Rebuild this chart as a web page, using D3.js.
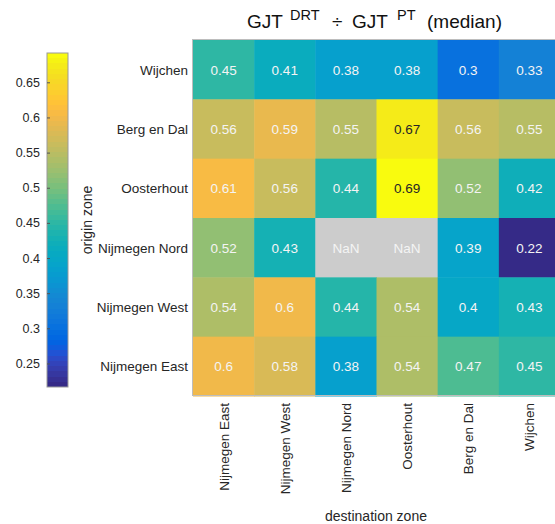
<!DOCTYPE html>
<html>
<head>
<meta charset="utf-8">
<script src="https://cdn.jsdelivr.net/npm/d3@7"></script>
<style>
html,body{margin:0;padding:0;background:#fff;}
svg{display:block;font-family:"Liberation Sans",Arial,Helvetica,sans-serif;}
</style>
</head>
<body>
<div id="chart"></div>
<script>
// ---- data ----
const rowLabels = ["Wijchen", "Berg en Dal", "Oosterhout", "Nijmegen Nord", "Nijmegen West", "Nijmegen East"];
const colLabels = ["Nijmegen East", "Nijmegen West", "Nijmegen Nord", "Oosterhout", "Berg en Dal", "Wijchen"];
const rowWijchen      = [0.45, 0.41, 0.38, 0.38, 0.3, 0.33];
const rowBergEnDal    = [0.56, 0.59, 0.55, 0.67, 0.56, 0.55];
const rowOosterhout   = [0.61, 0.56, 0.44, 0.69, 0.52, 0.42];
const rowNijmegenNord = [0.52, 0.43, NaN, NaN, 0.39, 0.22];
const rowNijmegenWest = [0.54, 0.6, 0.44, 0.54, 0.4, 0.43];
const rowNijmegenEast = [0.6, 0.58, 0.38, 0.54, 0.47, 0.45];
const colorLimits = [0.2165, 0.6917];
const colorbarTicks = [0.25, 0.3, 0.35, 0.4, 0.45, 0.5, 0.55, 0.6, 0.65];

const matrix = [rowWijchen, rowBergEnDal, rowOosterhout, rowNijmegenNord, rowNijmegenWest, rowNijmegenEast];

// parula colormap (64 entries)
const parula = [
[0.2081,0.1663,0.5292],[0.2116,0.1898,0.5777],[0.2123,0.2138,0.6270],[0.2081,0.2386,0.6771],
[0.1959,0.2645,0.7279],[0.1707,0.2919,0.7792],[0.1253,0.3242,0.8303],[0.0591,0.3598,0.8683],
[0.0117,0.3875,0.8820],[0.0060,0.4086,0.8828],[0.0165,0.4266,0.8786],[0.0329,0.4430,0.8720],
[0.0498,0.4586,0.8641],[0.0629,0.4737,0.8554],[0.0723,0.4887,0.8467],[0.0779,0.5040,0.8384],
[0.0793,0.5200,0.8312],[0.0749,0.5375,0.8263],[0.0641,0.5570,0.8240],[0.0488,0.5772,0.8228],
[0.0343,0.5966,0.8199],[0.0265,0.6137,0.8135],[0.0239,0.6287,0.8038],[0.0231,0.6418,0.7913],
[0.0228,0.6535,0.7768],[0.0267,0.6642,0.7607],[0.0384,0.6743,0.7436],[0.0590,0.6838,0.7254],
[0.0843,0.6928,0.7062],[0.1133,0.7015,0.6859],[0.1453,0.7098,0.6646],[0.1801,0.7177,0.6424],
[0.2178,0.7250,0.6193],[0.2586,0.7317,0.5954],[0.3022,0.7376,0.5712],[0.3482,0.7424,0.5473],
[0.3953,0.7459,0.5244],[0.4420,0.7481,0.5033],[0.4871,0.7491,0.4840],[0.5300,0.7491,0.4661],
[0.5709,0.7485,0.4494],[0.6099,0.7473,0.4337],[0.6473,0.7456,0.4188],[0.6834,0.7435,0.4044],
[0.7184,0.7411,0.3905],[0.7525,0.7384,0.3768],[0.7858,0.7356,0.3633],[0.8185,0.7327,0.3498],
[0.8507,0.7299,0.3360],[0.8824,0.7274,0.3217],[0.9139,0.7258,0.3063],[0.9450,0.7261,0.2886],
[0.9739,0.7314,0.2666],[0.9938,0.7455,0.2403],[0.9990,0.7653,0.2164],[0.9955,0.7861,0.1967],
[0.9880,0.8066,0.1794],[0.9789,0.8271,0.1633],[0.9697,0.8481,0.1475],[0.9626,0.8705,0.1309],
[0.9589,0.8949,0.1132],[0.9598,0.9218,0.0948],[0.9661,0.9514,0.0755],[0.9763,0.9831,0.0538]
];
const parulaColors = parula.map(c => d3.rgb(c[0]*255, c[1]*255, c[2]*255).formatHex());

const W = 555, H = 524;
const svg = d3.select("#chart").append("svg").attr("width", W).attr("height", H);

const hm = {x0: 193, x1: 560, y0: 40, y1: 396};
const x = d3.scaleBand().domain(colLabels).range([hm.x0, hm.x1]);
const y = d3.scaleBand().domain(rowLabels).range([hm.y0, hm.y1]);
const color = d3.scaleQuantize().domain(colorLimits).range(parulaColors);

const cells = [];
matrix.forEach((row, i) => row.forEach((v, j) => cells.push({r: rowLabels[i], c: colLabels[j], v})));

const g = svg.append("g");
g.selectAll("rect.cell").data(cells).join("rect")
  .attr("class", "cell")
  .attr("x", d => x(d.c)).attr("y", d => y(d.r))
  .attr("width", x.bandwidth() + 0.5).attr("height", y.bandwidth() + 0.5)
  .attr("fill", d => isNaN(d.v) ? "#cccccc" : color(d.v));

g.selectAll("text.val").data(cells).join("text")
  .attr("class", "val")
  .attr("x", d => x(d.c) + x.bandwidth() / 2)
  .attr("y", d => y(d.r) + y.bandwidth() / 2 + 5)
  .attr("text-anchor", "middle")
  .attr("font-size", "13.5px")
  .attr("fill", d => {
    if (isNaN(d.v)) return "#f4f4f4";
    return d3.lab(color(d.v)).l > 85 ? "#262626" : "#f4f4f4";
  })
  .text(d => isNaN(d.v) ? "NaN" : String(d.v));

g.append("rect").attr("x", hm.x0 - 0.5).attr("y", hm.y0 - 0.5)
  .attr("width", hm.x1 - hm.x0).attr("height", hm.y1 - hm.y0)
  .attr("fill", "none").attr("stroke", "#bdbdbd").attr("stroke-width", 1);

// row labels
svg.append("g").selectAll("text").data(rowLabels).join("text")
  .attr("x", 188).attr("y", d => y(d) + y.bandwidth() / 2 + 5)
  .attr("text-anchor", "end").attr("font-size", "13.5px").attr("fill", "#262626")
  .text(d => d);

// column labels
svg.append("g").selectAll("text").data(colLabels).join("text")
  .attr("transform", d => `translate(${x(d) + x.bandwidth() / 2 + 5},403) rotate(-90)`)
  .attr("text-anchor", "end").attr("font-size", "13.5px").attr("fill", "#262626")
  .text(d => d);

// axis titles
svg.append("text").attr("x", 376).attr("y", 521).attr("text-anchor", "middle")
  .attr("font-size", "14px").attr("fill", "#262626").text("destination zone");
svg.append("text").attr("transform", "translate(92,220) rotate(-90)").attr("text-anchor", "middle")
  .attr("font-size", "14px").attr("fill", "#262626").text("origin zone");

// title (parts laid out left to right)
const titleParts = [
  {t: "GJT", x: 247, sup: false},
  {t: "DRT", x: 290, sup: true},
  {t: "\u00f7", x: 332, sup: false},
  {t: "GJT", x: 352, sup: false},
  {t: "PT", x: 397, sup: true},
  {t: "(median)", x: 427, sup: false}
];
svg.append("g").selectAll("text").data(titleParts).join("text")
  .attr("x", d => d.x).attr("y", d => d.sup ? 20 : 28)
  .attr("font-size", d => d.sup ? "14.5px" : "19px")
  .attr("fill", "#111")
  .text(d => d.t);

// colorbar
const cb = {x: 47, w: 21, y0: 53, y1: 387};
const defs = svg.append("defs");
const grad = defs.append("linearGradient").attr("id", "cbgrad")
  .attr("x1", 0).attr("y1", 1).attr("x2", 0).attr("y2", 0);
parulaColors.forEach((c, i) => {
  grad.append("stop").attr("offset", i / parulaColors.length).attr("stop-color", c);
  grad.append("stop").attr("offset", (i + 1) / parulaColors.length).attr("stop-color", c);
});
svg.append("rect").attr("x", cb.x).attr("y", cb.y0).attr("width", cb.w).attr("height", cb.y1 - cb.y0)
  .attr("fill", "url(#cbgrad)").attr("stroke", "#9a9a9a").attr("stroke-width", 1);
const cy = d3.scaleLinear().domain(colorLimits).range([cb.y1, cb.y0]);
const cbAxis = svg.append("g").attr("transform", `translate(${cb.x},0)`)
  .call(d3.axisLeft(cy).tickValues(colorbarTicks).tickSize(-3).tickPadding(7)
    .tickFormat(d => String(+d.toFixed(2))));
cbAxis.select(".domain").remove();
cbAxis.selectAll(".tick line").attr("stroke", "#555");
cbAxis.selectAll(".tick text").attr("font-size", "12.5px").attr("fill", "#262626")
  .attr("font-family", "Liberation Sans, Arial, sans-serif");
</script>
</body>
</html>
